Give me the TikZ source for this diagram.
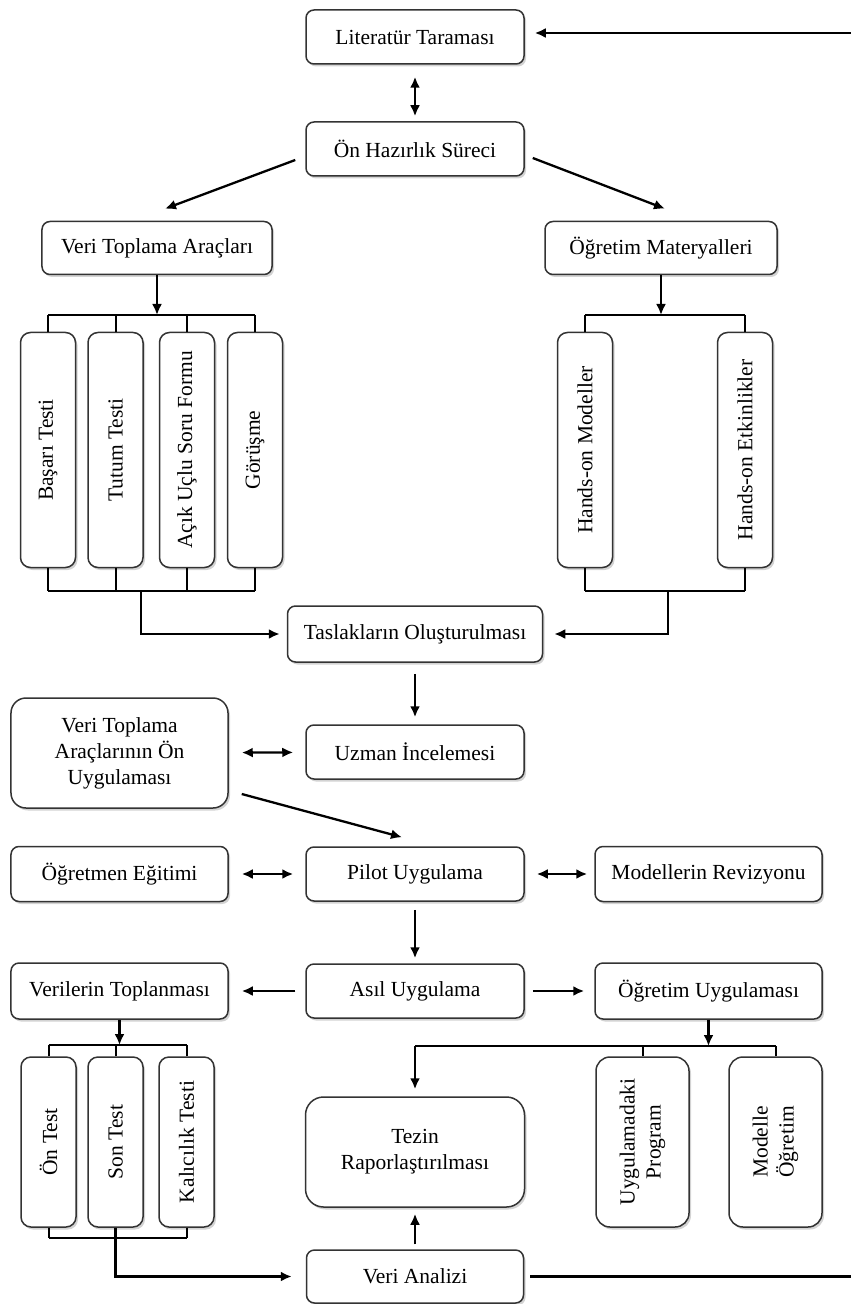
\documentclass[tikz,border=0pt]{standalone}
\usepackage{fontspec}
\setmainfont{Liberation Serif}
\usetikzlibrary{arrows.meta,shadows,calc}
\begin{document}
\begin{tikzpicture}[x=1bp,y=-1bp,
 box/.style={draw=black!80, line width=1.5bp, rounded corners=8bp, fill=white,
   font=\fontsize{21.5bp}{26bp}\selectfont, inner sep=0pt, align=center,
   drop shadow={shadow xshift=2bp, shadow yshift=-2.5bp, opacity=0.35}},
 wbox/.style={box, minimum width=218bp, minimum height=54bp},
 vbox/.style={box, rotate=90, minimum width=235bp, minimum height=55bp, rounded corners=10bp},
 tip/.style={-{Latex[length=11bp,width=10bp]}},
 arr/.style={line width=2.3bp, tip},
 darr/.style={line width=2.3bp, {Latex[length=11bp,width=10bp]}-{Latex[length=11bp,width=10bp]}},
 ln/.style={line width=2bp}
]
\useasboundingbox (0,0) rectangle (850,1304);

% nodes
\node[wbox] (lit) at (415,37) {Literatür Taraması};
\node[wbox] (on) at (415,149) {Ön Hazırlık Süreci};
\node[box, minimum width=230bp, minimum height=53bp] (vta) at (157,248) {Veri Toplama Araçları};
\node[box, minimum width=232bp, minimum height=53bp] (om) at (661,248) {Öğretim Materyalleri};

\node[vbox] (bt) at (48,450) {Başarı Testi};
\node[vbox] (tt) at (115.5,450) {Tutum Testi};
\node[vbox] (au) at (187,450) {Açık Uçlu Soru Formu};
\node[vbox] (gr) at (255,450) {Görüşme};
\node[vbox] (hm) at (585,450) {Hands-on Modeller};
\node[vbox] (he) at (745,450) {Hands-on Etkinlikler};

\node[box, minimum width=255bp, minimum height=56bp] (tas) at (415,634) {Taslakların Oluşturulması};
\node[box, minimum width=217bp, minimum height=110bp, rounded corners=15bp] (vton) at (119.5,753) {Veri Toplama\\Araçlarının Ön\\Uygulaması};
\node[wbox] (uz) at (415,752) {Uzman İncelemesi};

\node[box, minimum width=217bp, minimum height=55bp] (oe) at (119.5,874) {Öğretmen Eğitimi};
\node[wbox] (pil) at (415,874) {Pilot Uygulama};
\node[box, minimum width=227bp, minimum height=55bp] (mr) at (708.5,874) {Modellerin Revizyonu};

\node[box, minimum width=217bp, minimum height=56bp] (vt) at (119.5,991) {Verilerin Toplanması};
\node[wbox] (asil) at (415,991) {Asıl Uygulama};
\node[box, minimum width=227bp, minimum height=56bp] (ou) at (708.5,991) {Öğretim Uygulaması};

\node[vbox, minimum width=170bp] (ont) at (48.5,1142) {Ön Test};
\node[vbox, minimum width=170bp] (son) at (115.5,1142) {Son Test};
\node[vbox, minimum width=170bp] (kal) at (186.5,1142) {Kalıcılık Testi};
\node[vbox, minimum width=170bp, minimum height=93bp, rounded corners=14bp] (up) at (642.5,1142) {Uygulamadaki\\Program};
\node[vbox, minimum width=170bp, minimum height=93bp, rounded corners=14bp] (mo) at (775.5,1142) {Modelle\\Öğretim};

\node[box, minimum width=219bp, minimum height=110bp, rounded corners=18bp] (tez) at (415,1152) {Tezin\\Raporlaştırılması};
\node[box, minimum width=217bp, minimum height=53bp] (va) at (415,1276.5) {Veri Analizi};

% bracket levels
\coordinate (b1) at (0,315);
\coordinate (b2) at (0,591);
\coordinate (b3) at (0,1045);
\coordinate (b4) at (0,1238);
\coordinate (b5) at (0,1046);
\coordinate (c1) at (141,591);
\coordinate (c2) at (668,591);
\coordinate (rc) at (880,0);

% top
\draw[darr, shorten <=12bp, shorten >=5bp] (lit) -- (on);
\draw[arr] ($(on.west)+(-10,11)$) -- ($(vta.north)+(8,-12)$);
\draw[arr] ($(on.east)+(8,9)$) -- ($(om.north)+(4,-12)$);

% left bracket group
\draw[arr] (vta.south) -- (vta.south |- b1);
\draw[ln] (bt.east |- b1) -- (gr.east |- b1);
\foreach \n in {bt,tt,au,gr} \draw[ln] (\n.east) -- (\n.east |- b1);
\draw[ln] (bt.west |- b2) -- (gr.west |- b2);
\foreach \n in {bt,tt,au,gr} \draw[ln] (\n.west) -- (\n.west |- b2);
\draw[arr, shorten >=7bp] (c1) |- (tas.west);

% right bracket group
\draw[arr] (om.south) -- (om.south |- b1);
\draw[ln] (hm.east |- b1) -- (he.east |- b1);
\foreach \n in {hm,he} \draw[ln] (\n.east) -- (\n.east |- b1);
\draw[ln] (hm.west |- b2) -- (he.west |- b2);
\foreach \n in {hm,he} \draw[ln] (\n.west) -- (\n.west |- b2);
\draw[arr, shorten >=11bp] (c2) |- (tas.east);

% middle
\draw[arr, shorten <=11bp, shorten >=7bp] (tas) -- (uz);
\draw[darr, shorten <=13bp, shorten >=12bp] (vton) -- (uz);
\draw[arr] ($(vton.east)+(13,41)$) -- ($(pil.north)+(-13,-9)$);
\draw[darr, shorten <=13bp, shorten >=12bp] (oe) -- (pil);
\draw[darr, shorten <=12bp, shorten >=7bp] (pil) -- (mr);
\draw[arr, shorten <=8bp, shorten >=5bp] (pil) -- (asil);
\draw[arr, shorten <=10bp, shorten >=13bp] (asil) -- (vt);
\draw[arr, shorten <=8bp, shorten >=10bp] (asil) -- (ou);

% lower left
\draw[arr] (vt.south) -- (vt.south |- b3);
\draw[ln] (ont.east |- b3) -- (kal.east |- b3);
\foreach \n in {ont,son,kal} \draw[ln] (\n.east) -- (\n.east |- b3);
\draw[ln] (ont.west |- b4) -- (kal.west |- b4);
\foreach \n in {ont,kal} \draw[ln] (\n.west) -- (\n.west |- b4);
\draw[arr, shorten >=14bp] (son.west) |- (va.west);

% lower right
\draw[arr] (ou.south) -- (ou.south |- b5);
\draw[ln] (tez.north |- b5) -- (mo.east |- b5);
\foreach \n in {up,mo} \draw[ln] (\n.east) -- (\n.east |- b5);
\draw[arr, shorten >=7bp] (tez.north |- b5) -- (tez.north);
\draw[arr, shorten <=5bp, shorten >=6bp] (va) -- (tez);

% feedback line
\draw[arr, shorten <=6bp, shorten >=10bp] (va.east) -- (va.east -| rc) -- ($(lit.east -| rc)+(0,-4)$) -- ($(lit.east)+(0,-4)$);
\end{tikzpicture}
\end{document}
